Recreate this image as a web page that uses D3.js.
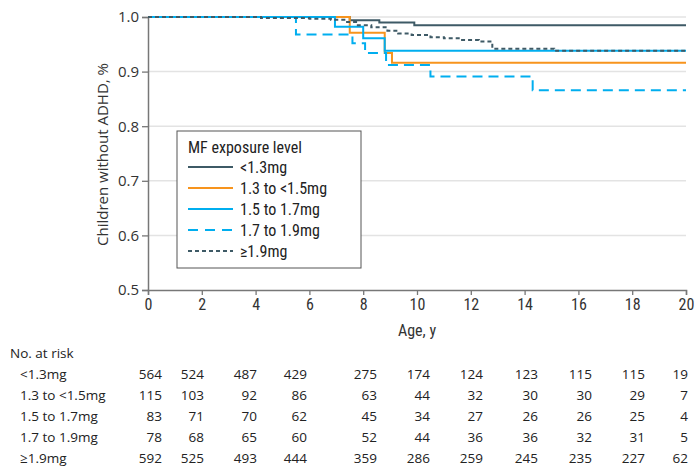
<!DOCTYPE html>
<html>
<head>
<meta charset="utf-8">
<script src="https://cdn.jsdelivr.net/npm/d3@7"></script>
<style>
  body { margin: 0; background: #fff; }
  svg { display: block; }
  .cond { font-family: "Liberation Sans Narrow", "Roboto Condensed", "DejaVu Sans Condensed", sans-serif; }
  .reg { font-family: "Open Sans", "Noto Sans", sans-serif; }
</style>
</head>
<body>
<div id="chart"></div>
<script>
// exposure groups
const groups = ['<1.3mg', '1.3 to <1.5mg', '1.5 to 1.7mg', '1.7 to 1.9mg', '≥1.9mg'];

// survival curves [age, proportion]
const curveLt13 = [[0, 1], [7.5, 0.994], [8.6, 0.990], [9.9, 0.985], [20, 0.985]];
const curve13to15 = [[0, 1], [7.5, 0.971], [8.8, 0.934], [9.07, 0.916], [20, 0.916]];
const curve15to17 = [[0, 1], [6.95, 0.982], [8.0, 0.961], [8.8, 0.938], [20, 0.938]];
const curve17to19 = [[0, 1], [5.5, 0.968], [7.6, 0.952], [8.07, 0.934], [8.85, 0.912], [10.5, 0.891], [14.3, 0.866], [20, 0.866]];
const curveGe19 = [[0, 1], [4.2, 0.998], [6.0, 0.997], [6.8, 0.995], [7.3, 0.991], [7.8, 0.985], [8.3, 0.981],
  [8.9, 0.975], [9.3, 0.970], [9.8, 0.967], [10.5, 0.963], [11.0, 0.961], [11.6, 0.958], [12.3, 0.955],
  [12.8, 0.942], [15.1, 0.938], [20, 0.938]];

// number at risk
const riskAges = [0, 2, 4, 6, 8, 10, 12, 14, 16, 18, 20];
const riskLt13 = [564, 524, 487, 429, 275, 174, 124, 123, 115, 115, 19];
const risk13to15 = [115, 103, 92, 86, 63, 44, 32, 30, 30, 29, 7];
const risk15to17 = [83, 71, 70, 62, 45, 34, 27, 26, 26, 25, 4];
const risk17to19 = [78, 68, 65, 60, 52, 44, 36, 36, 32, 31, 5];
const riskGe19 = [592, 525, 493, 444, 359, 286, 259, 245, 235, 227, 62];

const xTicks = [0, 2, 4, 6, 8, 10, 12, 14, 16, 18, 20];
const yTicks = [0.5, 0.6, 0.7, 0.8, 0.9, 1.0];

const curves = [curveLt13, curve13to15, curve15to17, curve17to19, curveGe19];
const risks = [riskLt13, risk13to15, risk15to17, risk17to19, riskGe19];
const colors = ['#3e5a66', '#f7941d', '#00aeef', '#00aeef', '#3e5a66'];
const dashes = [null, null, null, '10,6', '4,3'];

const width = 697, height = 467;
const margin = {top: 17, left: 148, right: 11, bottom: 177};

const svg = d3.select('#chart').append('svg')
  .attr('width', width)
  .attr('height', height);

const x = d3.scaleLinear().domain([0, 20]).range([margin.left, width - margin.right]);
const y = d3.scaleLinear().domain([0.5, 1.0]).range([height - margin.bottom, margin.top]);

// grid lines
svg.append('g')
  .selectAll('line')
  .data(yTicks.filter(d => d > 0.5))
  .enter().append('line')
  .attr('x1', x(0)).attr('x2', x(20))
  .attr('y1', d => y(d)).attr('y2', d => y(d))
  .attr('stroke', '#e3e3e3')
  .attr('stroke-width', 1.5);

// y axis
const yAxis = svg.append('g')
  .attr('transform', `translate(${x(0)},0)`)
  .call(d3.axisLeft(y).tickValues(yTicks).tickFormat(d3.format('.1f')).tickSize(6).tickPadding(3));
yAxis.select('.domain').attr('stroke', '#777').attr('stroke-width', 1.5);
yAxis.selectAll('.tick line').attr('stroke', '#777').attr('stroke-width', 1.3);
yAxis.selectAll('text')
  .attr('class', 'reg')
  .style('font-size', '15px')
  .attr('fill', '#333');

// x axis
const xAxis = svg.append('g')
  .attr('transform', `translate(0,${y(0.5)})`)
  .call(d3.axisBottom(x).tickValues(xTicks).tickSize(5).tickPadding(4));
xAxis.select('.domain').attr('stroke', '#777').attr('stroke-width', 1.5);
xAxis.selectAll('.tick line').attr('stroke', '#777').attr('stroke-width', 1.3);
xAxis.selectAll('text')
  .attr('class', 'cond')
  .style('font-size', '16px')
  .attr('fill', '#333');

svg.append('text')
  .attr('class', 'cond')
  .attr('x', (x(0) + x(20)) / 2)
  .attr('y', 336)
  .attr('text-anchor', 'middle')
  .style('font-size', '16px')
  .attr('fill', '#333')
  .text('Age, y');

svg.append('text')
  .attr('class', 'reg')
  .attr('transform', `translate(108,${(y(0.5) + y(1)) / 2 + 1}) rotate(-90)`)
  .attr('text-anchor', 'middle')
  .style('font-size', '15px')
  .attr('fill', '#333')
  .text('Children without ADHD, %');

// curves
const line = d3.line()
  .x(d => x(d[0]))
  .y(d => y(d[1]))
  .curve(d3.curveStepAfter);

svg.append('g')
  .selectAll('path')
  .data(curves)
  .enter().append('path')
  .attr('d', line)
  .attr('fill', 'none')
  .attr('stroke', (d, i) => colors[i])
  .attr('stroke-width', 2)
  .attr('stroke-dasharray', (d, i) => dashes[i]);

// legend
const legend = svg.append('g').attr('transform', 'translate(177,131)');
legend.append('rect')
  .attr('width', 184).attr('height', 137)
  .attr('fill', '#fff')
  .attr('stroke', '#555')
  .attr('stroke-width', 1);
legend.append('text')
  .attr('class', 'cond')
  .attr('x', 11).attr('y', 22)
  .style('font-size', '16px')
  .attr('fill', '#222')
  .text('MF exposure level');
const items = legend.selectAll('.item')
  .data(groups)
  .enter().append('g')
  .attr('class', 'item')
  .attr('transform', (d, i) => `translate(11,${36 + i * 21})`);
items.append('line')
  .attr('x1', 0).attr('x2', 45)
  .attr('stroke', (d, i) => colors[i])
  .attr('stroke-width', 2)
  .attr('stroke-dasharray', (d, i) => i === 3 ? '10,7' : i === 4 ? '4,3' : null);
items.append('text')
  .attr('class', 'cond')
  .attr('x', 52).attr('y', 5.5)
  .style('font-size', '16px')
  .attr('fill', '#222')
  .text(d => d);

// number at risk table
const colRight = [162, 204, 257, 307, 377, 430, 483, 538, 592, 645, 688];
const table = svg.append('g').attr('class', 'reg').style('font-size', '13.5px').attr('fill', '#222');
table.append('text').attr('x', 10).attr('y', 358).text('No. at risk');
groups.forEach((g, i) => {
  const rowY = 379 + i * 21;
  table.append('text').attr('x', 20).attr('y', rowY).text(g);
  table.selectAll(null)
    .data(risks[i])
    .enter().append('text')
    .attr('x', (d, j) => colRight[j])
    .attr('y', rowY)
    .attr('text-anchor', 'end')
    .text(d => d);
});
</script>
</body>
</html>
